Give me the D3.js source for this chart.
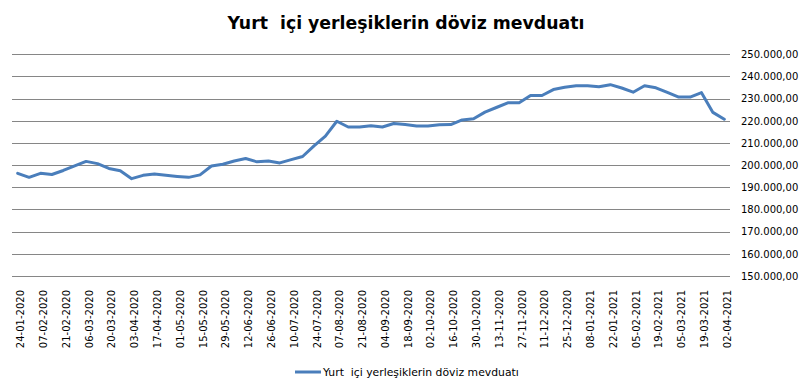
<!DOCTYPE html>
<html><head><meta charset="utf-8">
<script src="https://cdn.jsdelivr.net/npm/d3@7/dist/d3.min.js"></script>
<style>body{margin:0;background:#fff}svg{display:block}text{font-family:"DejaVu Sans",Verdana,sans-serif}</style>
</head><body>
<svg id="c" width="809" height="390"></svg>
<script>
const title = "Yurt  içi yerleşiklerin döviz mevduatı";
const seriesName = "Yurt  içi yerleşiklerin döviz mevduatı";
const dates = ["24-01-2020","31-01-2020","07-02-2020","14-02-2020","21-02-2020","28-02-2020","06-03-2020","13-03-2020","20-03-2020","27-03-2020","03-04-2020","10-04-2020","17-04-2020","24-04-2020","01-05-2020","08-05-2020","15-05-2020","22-05-2020","29-05-2020","05-06-2020","12-06-2020","19-06-2020","26-06-2020","03-07-2020","10-07-2020","17-07-2020","24-07-2020","31-07-2020","07-08-2020","14-08-2020","21-08-2020","28-08-2020","04-09-2020","11-09-2020","18-09-2020","25-09-2020","02-10-2020","09-10-2020","16-10-2020","23-10-2020","30-10-2020","06-11-2020","13-11-2020","20-11-2020","27-11-2020","04-12-2020","11-12-2020","18-12-2020","25-12-2020","01-01-2021","08-01-2021","15-01-2021","22-01-2021","29-01-2021","05-02-2021","12-02-2021","19-02-2021","26-02-2021","05-03-2021","12-03-2021","19-03-2021","26-03-2021","02-04-2021"];
const values = [196300,194500,196300,195800,197600,199700,201700,200700,198500,197500,193900,195400,196000,195400,194900,194500,195600,199600,200400,201900,203000,201500,201900,201000,202500,203900,208700,213100,219800,217200,217200,217800,217200,218800,218300,217700,217700,218200,218300,220400,220900,223900,226000,228100,228100,231400,231400,234100,235100,235800,235800,235400,236300,234800,232900,235800,234900,232800,230700,230700,232700,223800,220700];
const yTicks = [150000,160000,170000,180000,190000,200000,210000,220000,230000,240000,250000];

const svg = d3.select("#c");
const L = 12, R = 730, T = 54.3, B = 276;
const x = d3.scaleBand().domain(dates).range([L, R]);
const y = d3.scaleLinear().domain([150000, 250000]).range([B, T]);
const fmt = v => d3.format(",.2f")(v).replace(/,/g, "#").replace(/\./g, ",").replace(/#/g, ".");

// gridlines
svg.append("g").selectAll("line").data(yTicks).join("line")
  .attr("x1", L).attr("x2", R)
  .attr("y1", d => Math.round(y(d)) + 0.5).attr("y2", d => Math.round(y(d)) + 0.5)
  .attr("stroke", "#868686").attr("stroke-width", 1);

// right axis labels
const yAxis = d3.axisRight(y).tickValues(yTicks).tickFormat(fmt).tickSize(0).tickPadding(11);
const ga = svg.append("g").attr("transform", `translate(${R},0)`).call(yAxis);
ga.select(".domain").remove();
ga.selectAll("text").attr("font-size", 10).attr("fill", "#000").attr("font-family", '"DejaVu Sans",Verdana,sans-serif');

// x labels
const shown = dates.filter((d, i) => i % 2 === 0);
svg.append("g").selectAll("text").data(shown).join("text")
  .attr("transform", d => `translate(${x(d) + x.bandwidth() / 2 + 3},290) rotate(-90)`)
  .attr("text-anchor", "end").attr("dy", "0.35em")
  .attr("font-size", 10).attr("fill", "#000").text(d => d);

// line
const line = d3.line().x((d, i) => x(dates[i]) + x.bandwidth() / 2).y(d => y(d));
svg.append("path").datum(values).attr("d", line)
  .attr("fill", "none").attr("stroke", "#4A7EBB").attr("stroke-width", 3)
  .attr("stroke-linejoin", "round").attr("stroke-linecap", "round");

// title
const tt = svg.append("text").attr("x", 406).attr("y", 29).attr("text-anchor", "middle")
  .attr("font-weight", "bold").attr("font-size", 18).style("white-space", "pre").text(title);
const tw = tt.node().getComputedTextLength();
tt.attr("font-size", 18 * 357 / tw);

// legend
svg.append("line").attr("x1", 295).attr("x2", 321).attr("y1", 372).attr("y2", 372)
  .attr("stroke", "#4A7EBB").attr("stroke-width", 3);
const lt = svg.append("text").attr("x", 323).attr("y", 375.5).attr("font-size", 10)
  .style("white-space", "pre").text(seriesName);
const lw = lt.node().getComputedTextLength();
lt.attr("font-size", 10 * 196 / lw);
</script>
</body></html>
